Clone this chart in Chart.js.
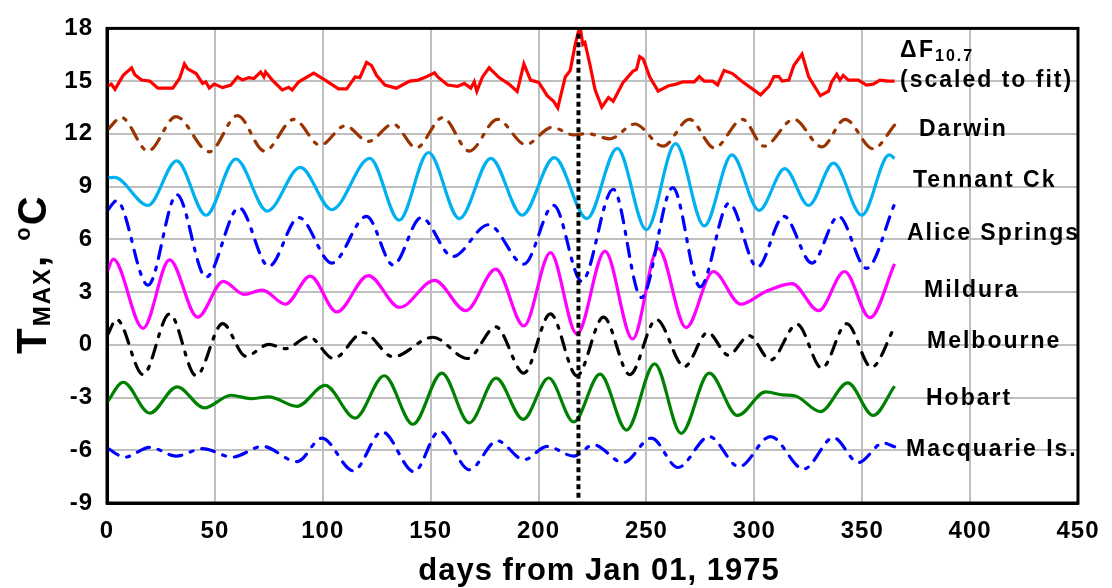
<!DOCTYPE html>
<html>
<head>
<meta charset="utf-8">
<script src="https://cdn.jsdelivr.net/npm/chart.js@4.4.0/dist/chart.umd.min.js"></script>
<style>
  html, body { margin: 0; padding: 0; background: #fff; }
  #wrap { width: 1112px; height: 588px; }
</style>
</head>
<body>
<div id="wrap"><canvas id="tmax" width="1112" height="588"></canvas></div>
<script>
// axis ticks
var xTicks = [0, 50, 100, 150, 200, 250, 300, 350, 400, 450];
var yTicks = [-9, -6, -3, 0, 3, 6, 9, 12, 15, 18];

// [day, value]
var deltaF = [[0,14.7],[2,14.83],[3.7,14.54],[7.5,15.33],[11.4,15.76],[12.9,15.37],[16,15.06],[19.8,15.0],[23.6,14.6],[30.5,14.6],
  [33.6,15.15],[35.9,15.98],[37.4,15.7],[41.3,15.43],[44.3,14.87],[45.8,14.96],[47.4,14.6],[49.7,14.83],[53.6,14.63],[57.4,14.78],
  [60.5,15.24],[62.8,15.06],[65.8,15.2],[68.1,15.15],[71.2,15.52],[72.7,15.24],[73.5,15.52],[76.6,15.06],[81.2,14.5],[84.2,14.65],
  [85.8,14.5],[88.9,14.96],[95.8,15.46],[101.1,15.06],[107.3,14.56],[111.1,14.56],[115,15.24],[117.2,15.2],[120.3,16.07],[122.6,15.89],
  [124.9,15.33],[128.8,14.78],[134.1,14.6],[140.3,15.0],[144.1,15.06],[147.2,15.2],[151.8,15.48],[153.3,15.24],[157.9,14.78],[162.5,14.7],
  [165.6,14.87],[168.6,14.6],[170.2,14.96],[171.4,14.43],[174,15.24],[177.1,15.76],[181.7,15.2],[186.3,14.83],[190.1,14.41],[193.2,15.98],
  [196.3,15.06],[200.1,14.93],[204,14.17],[207,13.85],[208.9,13.48],[212.4,15.24],[214.7,15.61],[217,17.09],[218.5,17.83],[219.6,17.83],
  [220.5,17.09],[221.5,17.2],[223.9,15.89],[226.2,14.5],[229.3,13.52],[232.4,14.07],[234.6,13.85],[239.2,14.93],[243.8,15.57],[245.4,15.67],
  [246.9,16.39],[248.5,16.26],[251.5,15.24],[255.4,14.43],[260,14.72],[263.8,14.83],[266.9,14.96],[272.2,14.96],[274.5,15.26],[276.8,15.0],
  [280.7,15.0],[283,14.78],[286,15.61],[289.9,15.43],[294.5,14.96],[299.1,14.56],[302.9,14.22],[306.8,14.7],[309.1,15.26],[311.4,15.26],
  [312.9,15.0],[316,15.06],[318.3,15.89],[322.1,16.54],[325.2,15.24],[330.6,14.17],[334.4,14.43],[335.9,14.96],[338.2,15.39],[339.7,15.06],
  [341.2,15.33],[343.6,15.06],[348.2,15.06],[352,14.78],[355.1,14.83],[358.2,15.06],[362,15.0],[365,15.0]];

var darwin = [[0,12.2],[6.7,12.93],[19,11.02],[32,12.98],[47.4,10.98],[60.5,13.04],[73,11.02],[86.6,12.83],[98.8,11.35],[110.4,12.46],
  [121.1,11.57],[132.6,12.56],[143.3,11.2],[155.6,12.93],[167.9,11.02],[180.9,12.83],[194,11.39],[206.3,12.37],[216.3,11.94],[222.4,12.02],
  [233.1,11.72],[244.6,12.56],[257.7,11.3],[269.9,12.83],[281.5,11.2],[294.5,12.83],[304.5,11.3],[318.3,12.83],[331.3,11.26],[342.1,12.83],
  [355.1,11.15],[365,12.5]];

var tennantCk = [[0,9.5],[3.5,9.52],[19,7.93],[32.3,10.46],[45.9,7.37],[59.7,10.57],[74.3,7.61],[89.6,10.09],[104.2,7.69],[121.8,10.61],
  [135.4,7.09],[149,10.94],[163.3,7.18],[177.9,10.61],[192.4,7.37],[207.3,10.65],[222.4,7.18],[236.5,11.17],[250,6.54],[263.5,11.44],
  [276.8,6.76],[289.6,10.8],[302.2,7.65],[314.1,10.02],[325.2,7.93],[336.7,10.33],[349.8,7.37],[362.5,10.8],[365,10.6]];

var aliceSprings = [[0,7.6],[4.5,8.2],[19,3.39],[32.4,8.54],[45.9,3.85],[61.2,7.8],[75,4.46],[88.9,7.24],[104.2,4.65],[120.3,7.31],
  [132.6,4.54],[145.6,7.24],[160.2,5.02],[176.8,6.83],[193.2,4.59],[207,7.93],[220,3.61],[234.6,8.85],[247.7,2.69],[262.2,8.94],
  [274.9,3.3],[288.3,8.06],[301.4,4.41],[313.7,7.31],[326.7,4.65],[339,7.31],[352,4.35],[365,8.0]];

var mildura = [[0,4.13],[2.9,4.87],[16.7,0.94],[29,4.83],[42,1.57],[53.9,3.61],[63.5,2.87],[72,3.11],[82.7,2.31],[94.2,3.91],
  [106.5,1.87],[121.1,3.94],[135.6,2.13],[151.8,3.67],[166.3,1.94],[180.2,4.31],[193.2,1.07],[205.5,5.24],[217.8,0.61],[230.8,5.33],
  [243.6,0.33],[255.4,5.48],[268.4,0.98],[281,4.17],[293.7,2.31],[305.2,3.02],[317.5,3.48],[329.8,1.94],[341.8,4.17],[353.6,1.54],[365,4.6]];

var melbourne = [[0,0.5],[4.5,1.44],[16.7,-1.7],[29,1.76],[41.3,-1.76],[53.6,1.2],[64.3,-0.65],[75,0.02],[82.7,-0.22],[93.5,0.46],
  [105,-0.78],[118.8,0.7],[132.6,-0.68],[151,0.43],[167.1,-0.78],[180.2,1.02],[193.2,-1.61],[205.5,1.76],[217.8,-1.76],[230.1,1.57],
  [242.3,-1.7],[254.6,1.44],[267.6,-1.24],[278.4,0.7],[288,-0.59],[297.6,0.52],[307.5,-0.87],[319.8,1.17],[331.3,-1.33],[342.8,1.2],
  [354.3,-1.28],[365,1.0]];

var hobart = [[0,-3.28],[7.5,-2.13],[19.8,-3.89],[32.5,-2.39],[45.1,-3.59],[57.4,-2.87],[66.6,-3.06],[75,-2.96],[88.1,-3.5],[101.1,-2.31],
  [115,-4.17],[128.5,-1.76],[141.8,-4.52],[155.2,-1.61],[167.9,-4.44],[180.3,-1.9],[192.9,-4.24],[204.7,-1.89],[216.3,-4.39],[228.5,-1.67],
  [240.8,-4.85],[253.8,-1.09],[266.1,-5.04],[279.1,-1.61],[292.2,-4.02],[305.2,-2.68],[313.3,-2.85],[319.1,-2.91],[330.6,-3.8],[343.3,-2.17],
  [355.1,-4.02],[365,-2.35]];

var macquarieIs = [[0,-5.87],[8.3,-6.39],[19.8,-5.83],[32,-6.33],[44.3,-5.91],[58.1,-6.39],[72,-5.78],[88.1,-6.65],[99.6,-5.31],[114.2,-7.17],
  [127.5,-4.94],[142.3,-7.22],[154.1,-4.91],[167.9,-7.11],[180.9,-5.46],[193.2,-6.54],[204,-5.78],[216.3,-6.33],[225.5,-5.69],[239.2,-6.7],
  [252.3,-5.31],[264.6,-6.98],[279.1,-5.22],[292.9,-6.94],[307.5,-5.22],[322.9,-7.07],[336.7,-5.28],[348.2,-6.7],[359.7,-5.59],[365,-5.8]];

// vertical marker day (peak of flux)
var markerLine = [[218.5,-8.7],[218.5,17.9]];

function pts(arr) {
  return arr.map(function (p) { return { x: p[0], y: p[1] }; });
}

var dash = [13, 9, 3, 9];
function series(data, color, dashed, smooth) {
  return {
    data: pts(data),
    borderColor: color,
    borderWidth: 3.2,
    borderDash: dashed ? dash : [],
    borderCapStyle: dashed ? "round" : "butt",
    pointRadius: 0,
    fill: false,
    tension: 0,
    cubicInterpolationMode: smooth ? "monotone" : "default"
  };
}

// text on the right of the lines and the axis titles
var sideLabels = {
  id: "sideLabels",
  beforeDraw: function (chart) {
    chart.ctx.letterSpacing = "1px";
  },
  afterDraw: function (chart) {
    var ctx = chart.ctx;
    var a = chart.chartArea;
    ctx.save();
    ctx.fillStyle = "#000";
    ctx.letterSpacing = "2px";
    ctx.textBaseline = "alphabetic";
    ctx.textAlign = "left";

    // box
    ctx.strokeStyle = "#000";
    ctx.lineWidth = 3;
    ctx.strokeRect(a.left, a.top, a.right - a.left, a.bottom - a.top);

    var big = "bold 23px 'Liberation Sans', Arial, sans-serif";
    ctx.font = big;
    ctx.fillText("\u0394", 900, 57);
    ctx.fillText("F", 919, 57);
    ctx.font = "bold 16px 'Liberation Sans', Arial, sans-serif";
    ctx.fillText("10.7", 935, 61);
    ctx.font = big;
    var names = [
      ["(scaled to fit)", 900, 87],
      ["Darwin", 919, 136],
      ["Tennant Ck", 913, 187],
      ["Alice Springs", 907, 240],
      ["Mildura", 924, 297],
      ["Melbourne", 927, 348],
      ["Hobart", 926, 405],
      ["Macquarie Is.", 906, 456]
    ];
    names.forEach(function (n) { ctx.fillText(n[0], n[1], n[2]); });

    // x title
    ctx.textAlign = "center";
    ctx.letterSpacing = "1px";
    ctx.font = "bold 31px 'Liberation Sans', Arial, sans-serif";
    ctx.fillText("days from Jan 01, 1975", 599, 580);

    // y title, rotated
    ctx.translate(46, 354);
    ctx.rotate(-Math.PI / 2);
    ctx.textAlign = "left";
    ctx.letterSpacing = "2px";
    var x = 0;
    ctx.font = "bold 42px 'Liberation Sans', Arial, sans-serif";
    ctx.fillText("T", x, 0);
    x += ctx.measureText("T").width;
    ctx.font = "bold 24px 'Liberation Sans', Arial, sans-serif";
    ctx.fillText("MAX", x, 4);
    x += ctx.measureText("MAX").width;
    ctx.font = "bold 40px 'Liberation Sans', Arial, sans-serif";
    ctx.fillText(",", x, 0);
    x += ctx.measureText(", ").width;
    ctx.font = "bold 22px 'Liberation Sans', Arial, sans-serif";
    ctx.fillText("o", x, -16);
    x += ctx.measureText("o").width;
    ctx.font = "bold 40px 'Liberation Sans', Arial, sans-serif";
    ctx.fillText("C", x, 0);
    ctx.restore();
  }
};

var tickFont = { family: "'Liberation Sans', Arial, sans-serif", size: 24, weight: "bold" };

var chart = new Chart(document.getElementById("tmax"), {
  type: "line",
  data: {
    datasets: [
      {
        data: pts(markerLine),
        borderColor: "#000",
        borderWidth: 4,
        borderDash: [5, 3.5],
        pointRadius: 0,
        order: -1
      },
      series(deltaF, "#FF0000", false, false),
      series(darwin, "#993300", true, true),
      series(tennantCk, "#00B0F0", false, true),
      series(aliceSprings, "#0000FF", true, true),
      series(mildura, "#FF00FF", false, true),
      series(melbourne, "#000000", true, true),
      series(hobart, "#008000", false, true),
      series(macquarieIs, "#0000FF", true, true)
    ]
  },
  options: {
    responsive: false,
    animation: false,
    layout: { padding: { top: 17, right: 28, left: 0, bottom: 0 } },
    plugins: {
      legend: { display: false },
      tooltip: { enabled: false },
      title: { display: false }
    },
    scales: {
      x: {
        type: "linear",
        min: 0,
        max: 450,
        afterBuildTicks: function (s) { s.ticks = xTicks.map(function (v) { return { value: v }; }); },
        afterFit: function (s) { s.height = 85; },
        grid: { color: "#BFBFBF", lineWidth: 2, drawTicks: false },
        border: { display: true, color: "#000", width: 3 },
        ticks: { color: "#000", font: tickFont, padding: 14, maxRotation: 0 }
      },
      y: {
        type: "linear",
        min: -9,
        max: 18,
        afterBuildTicks: function (s) { s.ticks = yTicks.map(function (v) { return { value: v }; }); },
        afterFit: function (s) { s.width = 107; },
        grid: { color: "#BFBFBF", lineWidth: 2, drawTicks: false },
        border: { display: true, color: "#000", width: 3 },
        ticks: { color: "#000", font: tickFont, padding: 14 }
      }
    }
  },
  plugins: [sideLabels]
});
</script>
</body>
</html>
